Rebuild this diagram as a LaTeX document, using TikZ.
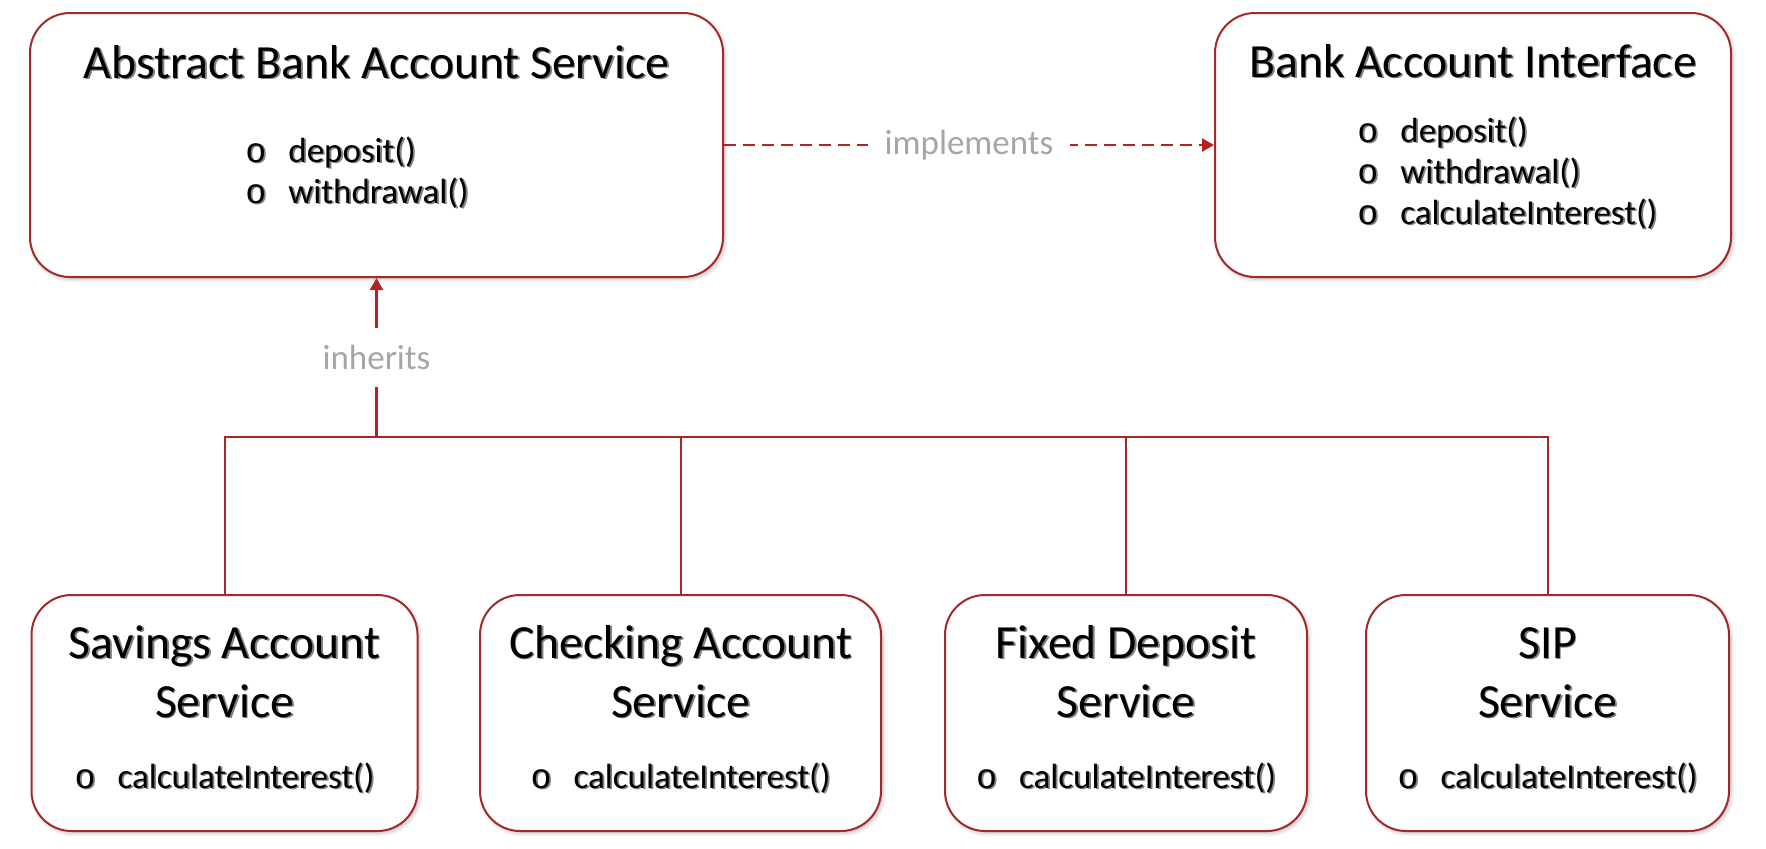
\documentclass[tikz,border=0pt]{standalone}
\usepackage{fontspec}
\setmainfont{Carlito}
\newfontfamily\bulletfont{Liberation Mono}
\usetikzlibrary{arrows.meta,positioning,shadows.blur}

\definecolor{boxred}{RGB}{163,40,40}
\definecolor{linkred}{RGB}{180,34,34}
\definecolor{labelgray}{RGB}{166,166,166}

% text with a soft grey copy behind it
\newcommand\shd[1]{\leavevmode\rlap{\kern0.9pt\raisebox{-0.9pt}{\textcolor{black!50}{#1}}}#1}
\newcommand\itm[1]{\makebox[21.5pt][l]{\shd{\bulletfont o}}\shd{#1}}

\tikzset{
classbox/.style={draw=boxred, line width=1pt, rounded corners=20pt, fill=white,
  blur shadow={shadow xshift=1pt, shadow yshift=-1.2pt, shadow blur steps=6, shadow opacity=25}},
classname/.style={font=\fontsize{23.8}{29.5}\selectfont, anchor=base, align=center, inner sep=0pt},
methods/.style={font=\fontsize{17.5}{20.5}\selectfont, anchor=base west, align=left, inner sep=0pt},
relabel/.style={font=\fontsize{17.5}{20.5}\selectfont, text=labelgray, fill=white, inner sep=8.5pt},
branch/.style={draw=boxred, line width=1pt},
link/.style={draw=linkred, line width=1.2pt, -{Triangle[length=6pt,width=6.5pt]}}
}

\begin{document}
\begin{tikzpicture}[x=0.5pt, y=-0.5pt]
\useasboundingbox (0,0) rectangle (1766,848);

% boxes
\node[classbox, minimum width=346.5pt, minimum height=132pt] (abs) at (376.5,145) {};
\node[classbox, minimum width=258pt, minimum height=132pt] (iface) at (1473,145) {};
\node[classbox, minimum width=193pt, minimum height=118pt] (sav) at (224.5,713) {};
\node[classbox, minimum width=200.5pt, minimum height=118pt] (chk) at (680.5,713) {};
\node[classbox, minimum width=181pt, minimum height=118pt] (fix) at (1126,713) {};
\node[classbox, minimum width=181.5pt, minimum height=118pt] (sip) at (1547.5,713) {};

% texts (multi-line nodes sit on their last baseline)
\node[classname] (absname) at (376.5,78) {\shd{Abstract Bank Account Service}};
\node[methods] (absops) at (245,203) {\itm{deposit()}\\ \itm{withdrawal()}};
\node[classname] (ifacename) at (1473,77) {\shd{Bank Account Interface}};
\node[methods] (ifaceops) at (1357,224) {\itm{deposit()}\\ \itm{withdrawal()}\\ \itm{calculateInterest()}};

\node[classname] (savname) at (224.5,717) {\shd{Savings Account}\\ \shd{Service}};
\node[classname] (chkname) at (680.5,717) {\shd{Checking Account}\\ \shd{Service}};
\node[classname] (fixname) at (1126,717) {\shd{Fixed Deposit}\\ \shd{Service}};
\node[classname] (sipname) at (1547.5,717) {\shd{SIP}\\ \shd{Service}};
\node[methods, anchor=base] (savops) at (224.5,788) {\itm{calculateInterest()}};
\node[methods, anchor=base] (chkops) at (680.5,788) {\itm{calculateInterest()}};
\node[methods, anchor=base] (fixops) at (1126,788) {\itm{calculateInterest()}};
\node[methods, anchor=base] (sipops) at (1547.5,788) {\itm{calculateInterest()}};

% connectors
\coordinate (hub) at (376.5,437);
\draw[branch] (sav.north) |- (hub) -| (sip.north);
\draw[branch] (chk.north) -- (chk.north |- hub);
\draw[branch] (fix.north) -- (fix.north |- hub);
\draw[link] (hub) -- node[relabel] {inherits} (abs.south);
\draw[link, dash pattern=on 6pt off 3.5pt] (abs.east) -- node[relabel] {implements} (iface.west);
\end{tikzpicture}
\end{document}
